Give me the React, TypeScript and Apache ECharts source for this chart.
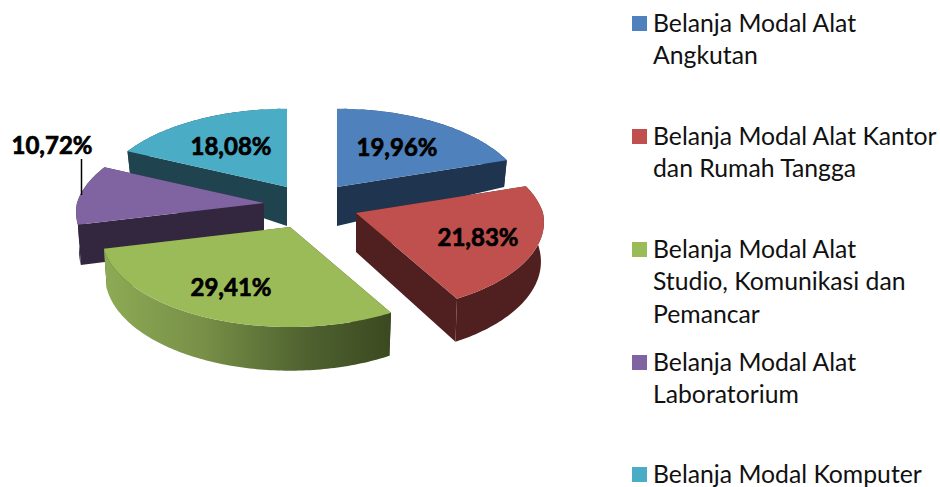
import React, { useEffect, useRef } from "react";
import * as echarts from "echarts";

const categories = [
  "Belanja Modal Alat\nAngkutan",
  "Belanja Modal Alat Kantor\ndan Rumah Tangga",
  "Belanja Modal Alat\nStudio, Komunikasi dan\nPemancar",
  "Belanja Modal Alat\nLaboratorium",
  "Belanja Modal Komputer",
];
const values = [19.96, 21.83, 29.41, 10.72, 18.08];

const topColors = ["#4f81bd", "#c0504d", "#9bbb59", "#8064a2", "#4bacc6"];
const faceColors = ["#1f344e", "#4f201f", "#3f4c22", "#33273f", "#1f444f"];
const apexes = [[337, 187], [356, 213], [290, 227], [264, 203], [287, 187]];
const drawRank = [1, 4, 5, 3, 2];
const labelPos = [[397, 146], [478, 236], [231, 286], [52, 144], [231, 145]];
const legendTop = [16, 129, 242, 355, 467];

const RX = 187;
const RY = 90;
const PERSP_FAR = 0.15;
const PERSP_NEAR = 0.1;
const DEPTH = 39;
const TAPER = 0.016;
const total = values.reduce((a, b) => a + b, 0);

function project(ax: number, ay: number, theta: number, r: number) {
  const u = Math.sin(theta) * r;
  const v = Math.cos(theta) * r;
  const s = 1 / (1 + (v > 0 ? PERSP_FAR : PERSP_NEAR) * v);
  const d = DEPTH * (v > 0 ? 1 - v : 1 - 0.12 * v);
  const x = ax + RX * u * s;
  return { x, y: ay - RY * v * s, d, bx: x - (x - ax) * TAPER };
}

function arcPoints(ax: number, ay: number, a0: number, a1: number) {
  const n = Math.max(2, Math.ceil(((a1 - a0) * 180) / Math.PI));
  const pts = [];
  for (let i = 0; i <= n; i++) pts.push(project(ax, ay, a0 + ((a1 - a0) * i) / n, 1));
  return pts;
}

function renderSlice(params: any, api: any) {
  const i = params.dataIndex;
  const value = api.value(0);
  let before = 0;
  for (let k = 0; k < i; k++) before += values[k];
  const a0 = (before / total) * Math.PI * 2;
  const a1 = ((before + value) / total) * Math.PI * 2;
  const [ax, ay] = apexes[i];
  const arc = arcPoints(ax, ay, a0, a1);
  const rank = drawRank[i] * 10;
  const first = arc[0];
  const last = arc[arc.length - 1];
  const face = faceColors[i];
  const quad = (p: any) => ({
    type: "polygon",
    z2: rank,
    shape: { points: [[ax, ay], [p.x, p.y], [p.bx, p.y + p.d], [ax, ay + DEPTH]] },
    style: { fill: face },
  });
  const wallFill: any =
    i === 2
      ? {
          type: "linear", x: 0, y: 0, x2: 1, y2: 0,
          colorStops: [
            { offset: 0, color: "#8dab55" },
            { offset: 0.35, color: "#778f47" },
            { offset: 0.7, color: "#4f6230" },
            { offset: 1, color: "#3b4920" },
          ],
        }
      : face;
  const wallPts = arc
    .map((p) => [p.x, p.y])
    .concat(arc.slice().reverse().map((p) => [p.bx, p.y + p.d]));
  const children: any[] = [
    quad(first),
    quad(last),
    { type: "polygon", z2: rank + 1, shape: { points: wallPts }, style: { fill: wallFill } },
    {
      type: "polygon",
      z2: rank + 2,
      shape: { points: [[ax, ay]].concat(arc.map((p) => [p.x, p.y])) },
      style: { fill: topColors[i] },
    },
    {
      type: "text",
      z2: 100,
      x: labelPos[i][0],
      y: labelPos[i][1],
      style: {
        text: value.toFixed(2).replace(".", ",") + "%",
        font: "bold 24px Lato",
        fill: "#000",
        stroke: "#000",
        lineWidth: 0.7,
        align: "center",
        verticalAlign: "middle",
      },
    },
  ];
  if (i === 3) {
    children.push({
      type: "line",
      z2: 100,
      shape: { x1: 81.5, y1: 159, x2: 81.5, y2: 195 },
      style: { stroke: "#000", lineWidth: 1.5 },
    });
  }
  return { type: "group", children };
}

export default function App() {
  const ref = useRef<HTMLDivElement>(null);
  useEffect(() => {
    document.body.style.margin = "0";
    const chart = echarts.init(ref.current!, null, { renderer: "svg" });
    const graphic: any[] = [];
    categories.forEach((name, i) => {
      graphic.push({
        type: "rect",
        left: 632,
        top: legendTop[i],
        shape: { width: 15, height: 15 },
        style: { fill: topColors[i] },
      });
      graphic.push({
        type: "text",
        left: 653,
        top: legendTop[i] - 10,
        style: { text: name, font: "24.75px Lato", lineHeight: 32.5, fill: "#111" },
      });
    });
    chart.setOption({
      animation: false,
      backgroundColor: "#fff",
      graphic,
      series: [
        {
          type: "custom",
          coordinateSystem: "none",
          renderItem: renderSlice,
          data: values.map((v) => [v]),
        },
      ],
    });
    return () => chart.dispose();
  }, []);
  return <div ref={ref} style={{ position: "absolute", left: 0, top: 0, width: 940, height: 487 }} />;
}
